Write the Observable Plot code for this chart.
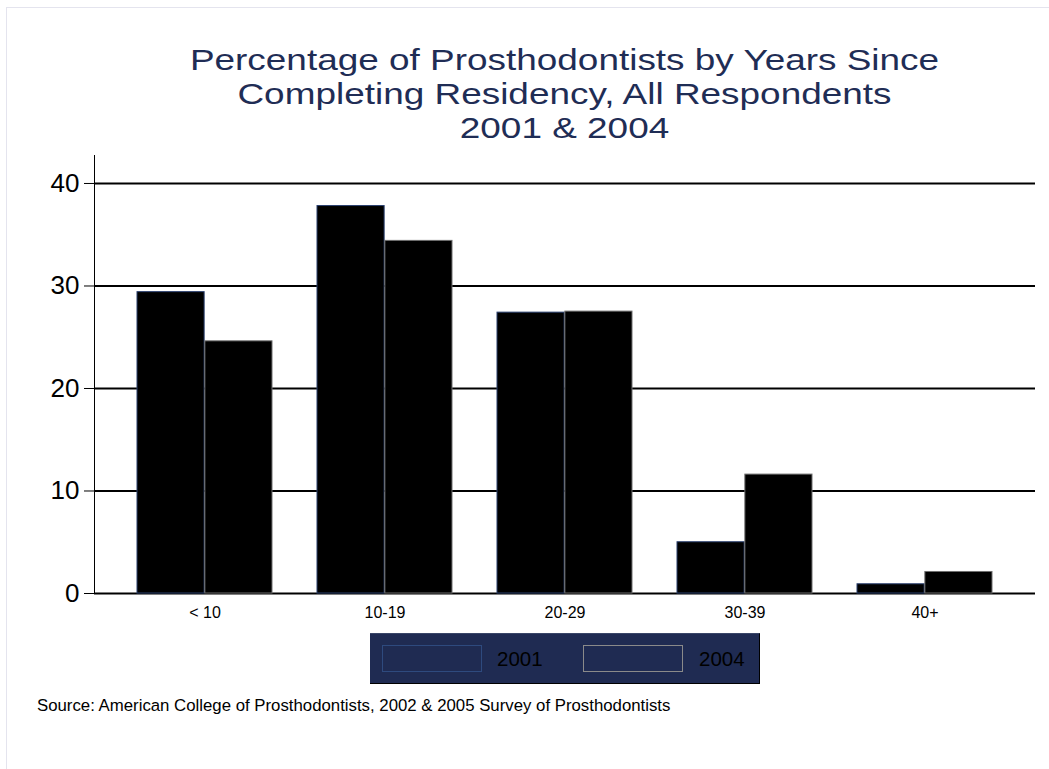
<!DOCTYPE html>
<html>
<head>
<meta charset="utf-8">
<script src="https://cdn.jsdelivr.net/npm/d3@7"></script>
<script src="https://cdn.jsdelivr.net/npm/@observablehq/plot@0.6"></script>
<style>
  html, body { margin: 0; padding: 0; background: #fff; }
  #page { position: relative; width: 1049px; height: 769px; overflow: hidden; font-family: "Liberation Sans", Arial, sans-serif; }
  #border { position: absolute; left: 6px; top: 7px; width: 1043px; height: 762px; border-top: 1px solid #e4e4ee; border-left: 1px solid #e4e4ee; }
  #title { position: absolute; left: 94px; width: 941px; top: 42px; text-align: center; color: #1f2d55; font-size: 30.4px; line-height: 34px; transform: scaleX(1.215); transform-origin: 470.5px 0; }
  #chart { position: absolute; left: 0; top: 145px; }
  #legend { position: absolute; left: 370px; top: 633px; width: 389px; height: 49px; background: #1f2b52; border-top: 1px solid #3a4668; border-right: 1px solid #000; border-bottom: 1px solid #000; }
  .sw { position: absolute; top: 11px; width: 98px; height: 25px; }
  .lt { position: absolute; top: 12px; font-size: 20.5px; line-height: 26px; color: #000; }
  #source { position: absolute; left: 37px; top: 696px; font-size: 16.8px; color: #000; }
</style>
</head>
<body>
<div id="page">
  <div id="border"></div>
  <div id="title">Percentage of Prosthodontists by Years Since<br>Completing Residency, All Respondents<br>2001 &amp; 2004</div>
  <div id="chart"></div>
  <div id="legend"></div>
  <div id="source">Source: American College of Prosthodontists, 2002 &amp; 2005 Survey of Prosthodontists</div>
</div>
<script>
const categories = ["< 10", "10-19", "20-29", "30-39", "40+"];
const years = ["2001", "2004"];
const values2001 = [29.4, 37.8, 27.4, 5.0, 0.9];
const values2004 = [24.6, 34.4, 27.5, 11.6, 2.1];
const yTicks = [0, 10, 20, 30, 40];
const outlineColors = ["#2b406f", "#6e6e6e"];
const legendOutlines = ["#2e4a7e", "#8a8a8a"];

const data2001 = categories.map((c, i) => ({cat: c, year: years[0], value: values2001[i]}));
const data2004 = categories.map((c, i) => ({cat: c, year: years[1], value: values2004[i]}));

const W = 1049, H = 490, mL = 94, mR = 14, mT = 10, mB = 42;
const xOpts = {domain: categories, paddingInner: 0.249, paddingOuter: 0.228, label: null};
const xs = Plot.scale({x: {type: "band", ...xOpts, range: [mL, W - mR]}});
const half = xs.bandwidth / 2;

const chart = Plot.plot({
  width: W, height: H,
  marginLeft: mL, marginRight: mR, marginTop: mT, marginBottom: mB,
  x: xOpts,
  y: {domain: [0, 42.73], label: null},
  style: {fontFamily: "'Liberation Sans', Arial, sans-serif", background: "transparent", color: "#000"},
  marks: [
    Plot.ruleY(yTicks, {stroke: "#000", strokeWidth: 2}),
    Plot.frame({anchor: "left", stroke: "#000", strokeWidth: 1}),
    Plot.barY(data2001, {x: "cat", y: "value", fill: "#000", stroke: outlineColors[0], strokeWidth: 1, insetLeft: 0, insetRight: half}),
    Plot.barY(data2004, {x: "cat", y: "value", fill: "#000", stroke: outlineColors[1], strokeWidth: 1, insetLeft: half, insetRight: 0}),
    Plot.axisY({ticks: yTicks, tickSize: 10, tickPadding: 5, fontSize: 26, label: null}),
    Plot.axisX({tickSize: 0, tickPadding: 13, fontSize: 16, label: null})
  ]
});
document.getElementById("chart").appendChild(chart);

// legend
const legend = document.getElementById("legend");
const swLeft = [12, 213], txtLeft = [127, 329];
years.forEach((y, i) => {
  const s = document.createElement("div");
  s.className = "sw";
  s.style.left = swLeft[i] + "px";
  s.style.border = "1px solid " + legendOutlines[i];
  legend.appendChild(s);
  const t = document.createElement("div");
  t.className = "lt";
  t.style.left = txtLeft[i] + "px";
  t.textContent = y;
  legend.appendChild(t);
});
</script>
</body>
</html>
